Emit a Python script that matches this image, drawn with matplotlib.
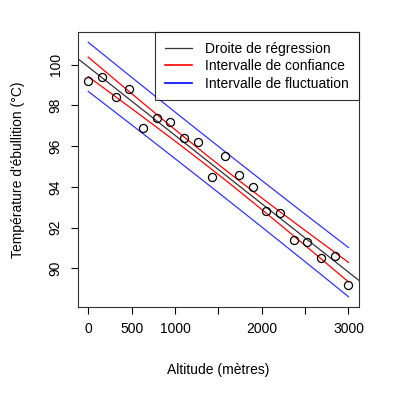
import numpy as np
import matplotlib
matplotlib.use('Agg')
import matplotlib.pyplot as plt
from matplotlib.lines import Line2D

plt.rcParams['font.family'] = ['Liberation Sans', 'DejaVu Sans']

# --- data ---
altitude = np.linspace(0, 3000, 20)
temperature = [99.2, 99.4, 98.4, 98.8, 96.9, 97.4, 97.2, 96.4, 96.2, 94.5,
               95.5, 94.6, 94.0, 92.8, 92.7, 91.4, 91.3, 90.5, 90.6, 89.2]
x_ticks = [0, 500, 1000, 1500, 2000, 2500, 3000]
x_ticklabels = ['0', '500', '1000', '', '2000', '', '3000']
y_ticks = [90, 92, 94, 96, 98, 100]

# --- linear regression, 95% intervals (t quantile df=18) ---
x = np.asarray(altitude)
y = np.asarray(temperature)
n = len(x)
b1, b0 = np.polyfit(x, y, 1)
resid = y - (b0 + b1 * x)
s = np.sqrt(np.sum(resid**2) / (n - 2))
t_q = 2.100922
sxx = np.sum((x - x.mean())**2)
fit = b0 + b1 * x
se_conf = s * np.sqrt(1 / n + (x - x.mean())**2 / sxx)
se_pred = s * np.sqrt(1 + 1 / n + (x - x.mean())**2 / sxx)

fig = plt.figure(figsize=(3.97, 3.96), dpi=100)
ax = fig.add_axes([0.196, 0.225, 0.708, 0.694])

ax.plot(x, y, 'o', mfc='none', mec='black', ms=5.8, mew=0.9, zorder=3)
ax.axline((0, b0), slope=b1, color='#333333', lw=0.9)
ax.plot(x, fit + t_q * se_conf, color='red', lw=0.9)
ax.plot(x, fit - t_q * se_conf, color='red', lw=0.9)
ax.plot(x, fit + t_q * se_pred, color='blue', lw=0.9, alpha=0.8)
ax.plot(x, fit - t_q * se_pred, color='blue', lw=0.9, alpha=0.8)

# R-style 4% padding
ylo = (fit - t_q * se_pred).min()
yhi = (fit + t_q * se_pred).max()
pad = 0.04 * (yhi - ylo)
ax.set_ylim(ylo - pad, yhi + pad)
ax.set_xlim(-120, 3120)

ax.set_xticks(x_ticks)
ax.set_xticklabels(x_ticklabels)
ax.set_yticks(y_ticks)
ax.set_yticklabels([str(v) for v in y_ticks], rotation=90, va='center')
ax.tick_params(direction='out', length=5, width=0.8, labelsize=10, pad=6)
for sp in ax.spines.values():
    sp.set_linewidth(0.8)
    sp.set_color('#333333')

ax.set_xlabel('Altitude (mètres)', fontsize=10, labelpad=19)
ax.set_ylabel("Température d'ébullition (°C)", fontsize=10, labelpad=17)

handles = [Line2D([], [], color='#333333', lw=0.9),
           Line2D([], [], color='red', lw=1.2),
           Line2D([], [], color='blue', lw=1.2)]
leg = ax.legend(handles, ['Droite de régression', 'Intervalle de confiance',
                          'Intervalle de fluctuation'],
                loc='upper right', borderaxespad=0, fontsize=10, fancybox=False,
                handlelength=1.9, handletextpad=1.0, labelspacing=0.25,
                borderpad=0.7)
leg.get_frame().set_edgecolor('black')
leg.get_frame().set_linewidth(0.8)

fig.savefig('out.png', dpi=100)
